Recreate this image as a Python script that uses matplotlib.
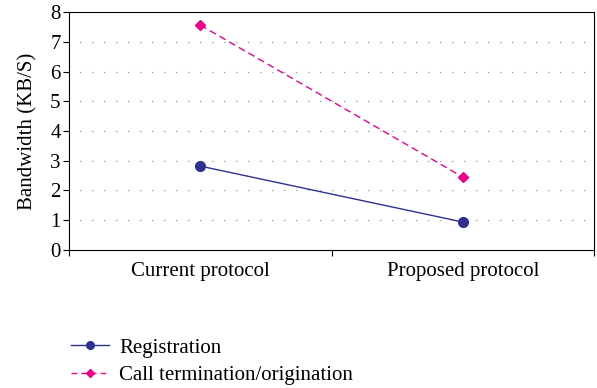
import numpy as np
import matplotlib
matplotlib.use('Agg')
import matplotlib.pyplot as plt
from matplotlib.lines import Line2D

plt.rcParams['font.family'] = ['Liberation Serif', 'DejaVu Serif']

categories = ['Current protocol', 'Proposed protocol']
registration = [2.82, 0.94]
call_term = [7.56, 2.45]
series_names = ['Registration', 'Call termination/origination']

blue = '#2e3192'
pink = '#ec008c'

fig = plt.figure(figsize=(5.97, 3.88), dpi=100)
ax = fig.add_axes([0.1156, 0.3557, 0.8794, 0.6133])

x = np.arange(len(categories)) + 0.5
ax.plot(x, registration, color=blue, lw=1.0, marker='o', ms=7)
ax.plot(x, call_term, color=pink, lw=1.0, ls=(0, (5, 3)), marker='D', ms=5)

ax.set_xlim(0, len(categories))
ax.set_ylim(0, 8)
ax.set_yticks(range(0, 9))
# dotted guide lines between the axis ends
for v in range(1, 8):
    ax.axhline(v, xmin=0.02, xmax=0.985, color='#333333', lw=0.8,
               ls=(0, (0.6, 10.2)), zorder=0)

ax.set_xticks(range(0, len(categories) + 1))
ax.set_xticklabels([])
ax.set_xticks(x, minor=True)
ax.set_xticklabels(categories, minor=True, fontsize=15)
ax.tick_params(axis='x', which='minor', length=0, pad=9)
ax.tick_params(axis='x', which='major', length=4, direction='out', width=0.8)
ax.tick_params(axis='y', length=4, direction='out', width=0.8, labelsize=15, pad=2)
ax.set_ylabel('Bandwidth (KB/S)', fontsize=15, labelpad=9)
for s in ax.spines.values():
    s.set_linewidth(0.8)

handles = [
    Line2D([], [], color=blue, lw=1.0, marker='o', ms=5.5),
    Line2D([], [], color=pink, lw=1.0, ls=(0, (4, 3)), marker='D', ms=4.5),
]
fig.legend(handles, series_names, loc='upper left', bbox_to_anchor=(0.105, 0.15),
           frameon=False, fontsize=15, handlelength=1.8, handletextpad=0.5,
           labelspacing=0.36, borderaxespad=0)

fig.savefig('out.png', dpi=100)
